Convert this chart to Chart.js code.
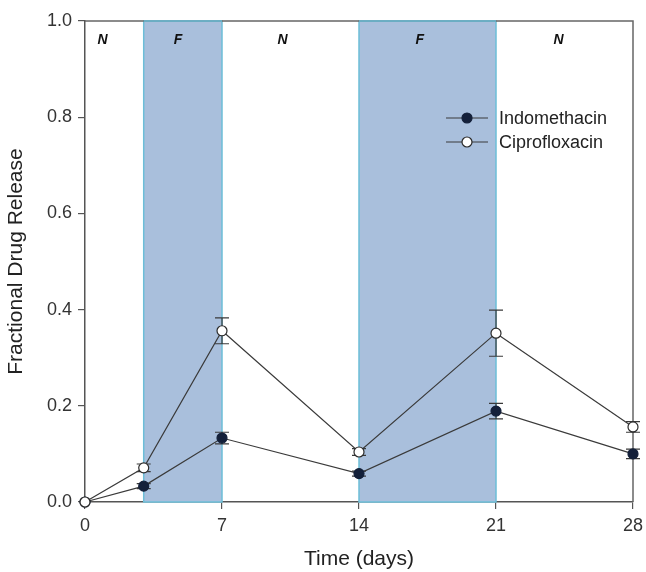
<!DOCTYPE html>
<html>
<head>
<meta charset="utf-8">
<script src="https://cdn.jsdelivr.net/npm/chart.js@4/dist/chart.umd.min.js"></script>
<style>
  html, body { margin: 0; padding: 0; background: #fff; }
  #wrap { width: 646px; height: 572px; }
</style>
</head>
<body>
<div id="wrap"><canvas id="chart"></canvas></div>
<script>
// days sampled
const days = [0, 3, 7, 14, 21, 28];
const indomethacin = [0, 0.033, 0.133, 0.059, 0.189, 0.100];
const indoErr = [0, 0.005, 0.012, 0.005, 0.016, 0.010];
const ciprofloxacin = [0, 0.071, 0.356, 0.104, 0.351, 0.156];
const ciproErr = [0, 0.008, 0.027, 0.007, 0.048, 0.011];

// fed (F) periods, shaded
const fedPeriods = [[3, 7], [14, 21]];
// phase labels
const phaseLabels = ['N', 'F', 'N', 'F', 'N'];
const phaseLabelX = [0.9, 4.75, 10.1, 17.1, 24.2];
const phaseLabelY = 0.96;

const xTicks = [0, 7, 14, 21, 28];

const lineColor = '#3a3a3a';
const fedFill = 'rgb(169,191,220)';
const fedBorder = 'rgb(108,190,216)';
const fontFamily = '"Liberation Sans", Arial, sans-serif';

function toPoints(xs, ys) {
    return xs.map((x, i) => ({x: x, y: ys[i]}));
}

const backdrop = {
    id: 'backdrop',
    beforeDatasetsDraw(chart) {
        const {ctx, chartArea, scales: {x, y}} = chart;
        ctx.save();
        // shaded fed periods
        fedPeriods.forEach(p => {
            const x0 = x.getPixelForValue(p[0]);
            const x1 = x.getPixelForValue(p[1]);
            const y0 = y.getPixelForValue(1);
            const y1 = y.getPixelForValue(0);
            ctx.fillStyle = fedFill;
            ctx.fillRect(x0, y0, x1 - x0, y1 - y0);
            ctx.strokeStyle = fedBorder;
            ctx.lineWidth = 1.5;
            ctx.strokeRect(x0, y0, x1 - x0, y1 - y0);
        });
        // top and right frame
        ctx.strokeStyle = '#666';
        ctx.lineWidth = 1.5;
        ctx.beginPath();
        ctx.moveTo(chartArea.left, chartArea.top);
        ctx.lineTo(chartArea.right, chartArea.top);
        ctx.lineTo(chartArea.right, chartArea.bottom);
        ctx.stroke();
        // redraw shaded top borders over frame
        fedPeriods.forEach(p => {
            const x0 = x.getPixelForValue(p[0]);
            const x1 = x.getPixelForValue(p[1]);
            ctx.strokeStyle = fedBorder;
            ctx.beginPath();
            ctx.moveTo(x0, chartArea.top);
            ctx.lineTo(x1, chartArea.top);
            ctx.stroke();
        });
        // phase labels
        ctx.fillStyle = '#111';
        ctx.font = 'italic bold 14px ' + fontFamily;
        ctx.textAlign = 'center';
        ctx.textBaseline = 'middle';
        phaseLabels.forEach((t, i) => {
            ctx.fillText(t, x.getPixelForValue(phaseLabelX[i]), y.getPixelForValue(phaseLabelY));
        });
        // error bars
        const bars = [[indomethacin, indoErr], [ciprofloxacin, ciproErr]];
        ctx.strokeStyle = lineColor;
        ctx.lineWidth = 1.2;
        bars.forEach(b => {
            days.forEach((d, i) => {
                if (!b[1][i]) return;
                const px = x.getPixelForValue(d);
                const top = y.getPixelForValue(b[0][i] + b[1][i]);
                const bot = y.getPixelForValue(b[0][i] - b[1][i]);
                ctx.beginPath();
                ctx.moveTo(px, top); ctx.lineTo(px, bot);
                ctx.moveTo(px - 7, top); ctx.lineTo(px + 7, top);
                ctx.moveTo(px - 7, bot); ctx.lineTo(px + 7, bot);
                ctx.stroke();
            });
        });
        ctx.restore();
    },
    afterDatasetsDraw(chart) {
        // legend
        const {ctx} = chart;
        const items = chart.data.datasets;
        ctx.save();
        ctx.font = '18px ' + fontFamily;
        ctx.textBaseline = 'middle';
        ctx.textAlign = 'left';
        items.forEach((ds, i) => {
            const yy = 118 + i * 24;
            ctx.strokeStyle = lineColor;
            ctx.lineWidth = 1.2;
            ctx.beginPath();
            ctx.moveTo(446, yy); ctx.lineTo(488, yy);
            ctx.stroke();
            ctx.beginPath();
            ctx.arc(467, yy, 5, 0, Math.PI * 2);
            ctx.fillStyle = ds.pointBackgroundColor;
            ctx.fill();
            ctx.strokeStyle = ds.pointBorderColor;
            ctx.stroke();
            ctx.fillStyle = '#222';
            ctx.fillText(ds.label, 499, yy + 1);
        });
        ctx.restore();
    }
};

const ctx = document.getElementById('chart').getContext('2d');
const chart = new Chart(ctx, {
    type: 'line',
    data: {
        datasets: [
            {
                label: 'Indomethacin',
                data: toPoints(days, indomethacin),
                borderColor: lineColor,
                borderWidth: 1.2,
                pointRadius: 5,
                pointBackgroundColor: '#14203a',
                pointBorderColor: '#14203a',
                pointBorderWidth: 1.2,
                clip: false,
                order: 2
            },
            {
                label: 'Ciprofloxacin',
                data: toPoints(days, ciprofloxacin),
                borderColor: lineColor,
                borderWidth: 1.2,
                pointRadius: 5,
                pointBackgroundColor: '#ffffff',
                pointBorderColor: '#2a2a2a',
                pointBorderWidth: 1.2,
                clip: false,
                order: 1
            }
        ]
    },
    options: {
        responsive: true,
        maintainAspectRatio: false,
        animation: false,
        layout: {
            padding: {left: 0, right: 13, top: 21, bottom: 0}
        },
        plugins: {
            legend: {display: false},
            tooltip: {enabled: false}
        },
        scales: {
            x: {
                type: 'linear',
                min: 0,
                max: 28,
                afterFit(scale) {
                    scale.height = 70;
                    scale.paddingLeft = 0;
                    scale.paddingRight = 0;
                },
                afterBuildTicks(scale) { scale.ticks = xTicks.map(v => ({value: v})); },
                border: {color: '#555', width: 1.5},
                grid: {drawOnChartArea: false, tickLength: 7, color: '#555', lineWidth: 1.2},
                ticks: {
                    color: '#333',
                    padding: 6,
                    font: {size: 18, family: fontFamily}
                },
                title: {
                    display: true,
                    text: 'Time (days)',
                    color: '#222',
                    padding: {top: 0, bottom: 0},
                    font: {size: 21, family: fontFamily}
                }
            },
            y: {
                min: 0,
                max: 1,
                afterFit(scale) {
                    scale.width = 85;
                    scale.paddingTop = 0;
                    scale.paddingBottom = 0;
                },
                border: {color: '#555', width: 1.5},
                grid: {drawOnChartArea: false, tickLength: 7, color: '#555', lineWidth: 1.2},
                ticks: {
                    stepSize: 0.2,
                    color: '#333',
                    padding: 6,
                    font: {size: 18, family: fontFamily},
                    callback: v => v.toFixed(1)
                },
                title: {
                    display: true,
                    text: 'Fractional Drug Release',
                    color: '#222',
                    padding: {top: 4, bottom: 0},
                    font: {size: 21, family: fontFamily}
                }
            }
        }
    },
    plugins: [backdrop]
});
</script>
</body>
</html>
